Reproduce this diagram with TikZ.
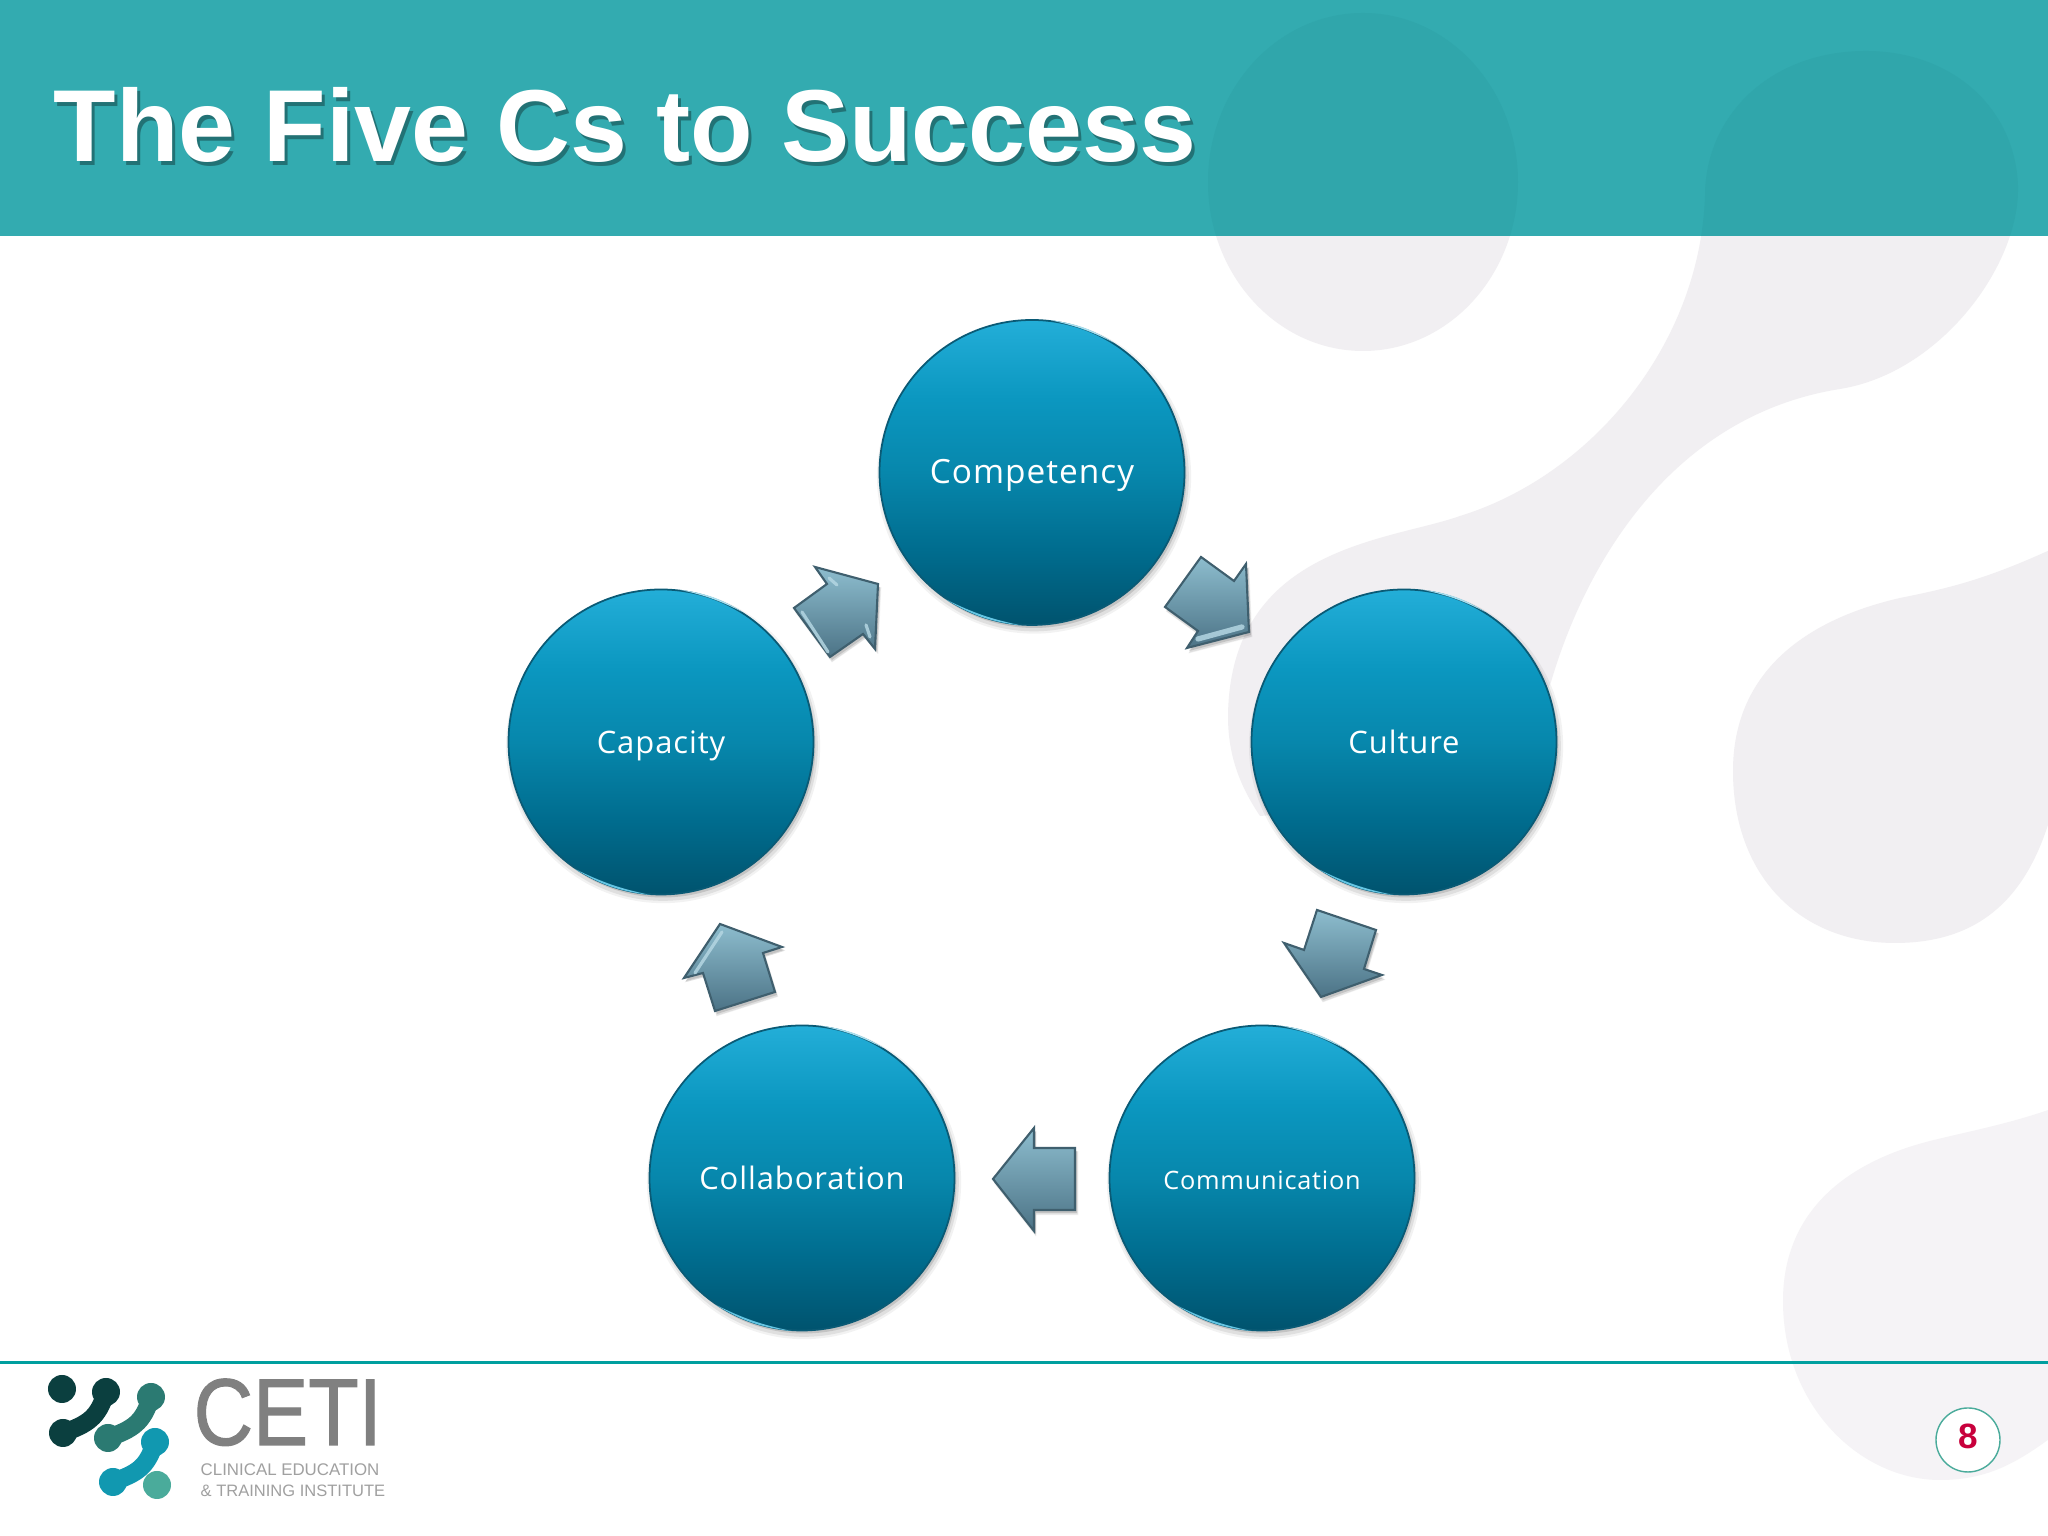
\documentclass[tikz,border=0pt]{standalone}
\usepackage{fontspec}
\usepackage{xcolor}
\usetikzlibrary{shadows}
\setmainfont{Liberation Sans}
\newfontfamily\bubblefont[LetterSpace=3]{Open Sans}
\newfontfamily\cetifont[FakeBold=1.2]{Liberation Sans}

\definecolor{headteal}{HTML}{33ABB0}
\definecolor{headblob}{HTML}{30A6AB}
\definecolor{blobgrey}{HTML}{F1EFF2}
\definecolor{blobpale}{HTML}{F5F3F6}
\definecolor{bubbleedge}{HTML}{0A5A75}
\definecolor{arrowedge}{HTML}{3F5F6E}
\definecolor{logogrey}{HTML}{808080}
\definecolor{bubblefoot}{HTML}{00536E}
\definecolor{bubblelow}{HTML}{006C8E}
\definecolor{bubblemid}{HTML}{0787AC}
\definecolor{bubblehigh}{HTML}{0B97C0}
\definecolor{bubbletop}{HTML}{23AED8}
\definecolor{arrowtop}{HTML}{8DBDCE}
\definecolor{arrowlow}{HTML}{4C7386}
\definecolor{arrowshine}{HTML}{B4D6E2}
\definecolor{logodark}{HTML}{0B3F3F}
\definecolor{logomid}{HTML}{2B7A72}
\definecolor{logocyan}{HTML}{1198B0}
\definecolor{logodot}{HTML}{4AAB9B}
\pgfdeclareverticalshading{bubbleshade}{100bp}{color(0bp)=(bubblefoot);color(25bp)=(bubblefoot);color(37bp)=(bubblelow);color(50bp)=(bubblemid);color(62bp)=(bubblehigh);color(75bp)=(bubbletop);color(100bp)=(bubbletop)}

\tikzset{
    softshadow/.style={
        drop shadow={shadow xshift=.02cm,shadow yshift=-.04cm,shadow scale=1.03,opacity=.05,fill=black},
        drop shadow={shadow xshift=.02cm,shadow yshift=-.04cm,shadow scale=1.015,opacity=.08,fill=black},
        drop shadow={shadow xshift=.02cm,shadow yshift=-.03cm,opacity=.12,fill=black}},
    bubble/.style={circle,minimum size=3.05cm,inner sep=0pt,draw=bubbleedge,line width=.5pt,
        shading=bubbleshade,softshadow,text=white,text height=6.3pt,text depth=0pt,font=\bubblefont\fontsize{8.8}{12}\selectfont},
    blockarrow/.style={draw=arrowedge,line width=.6pt,line join=miter,top color=arrowtop,bottom color=arrowlow,softshadow},
    arrowglint/.style={draw=arrowshine,line width=.9pt,line cap=round,opacity=.85},
    logotext/.style={anchor=base west,inner sep=0pt,text=logogrey!75}
}

\newcommand{\glint}[1]{
    \fill[bubbletop!40!white] (#1.83) to[bend left=12] (#1.58) to[bend right=7] cycle;
    \fill[bubbletop!70!white] (#1.236) to[bend right=12] (#1.266) to[bend left=7] cycle;
}
\newcommand{\blobtop}{(13.63,13.54) ellipse[x radius=1.55,y radius=1.69]}
\newcommand{\blobband}{(15.51,8.54) .. controls (15.85,9.7) and (16.7,11.2) .. (18.4,11.47) .. controls (19.4,11.63) and (20.2,12.7) .. (20.18,13.5) .. controls (20.15,14.3) and (19.5,14.85) .. (18.66,14.85) .. controls (17.7,14.85) and (17.05,14.2) .. (17.05,13.4) .. controls (17.0,11.9) and (15.9,10.6) .. (14.6,10.2) .. controls (13.9,9.95) and (12.3,9.9) .. (12.28,8.2) .. controls (12.28,7.8) and (12.4,7.5) .. (12.6,7.2) -- (15,7.4) -- cycle}

\begin{document}
\begin{tikzpicture}
    \useasboundingbox (0,0) rectangle (20.48,15.36);
    \clip (0,0) rectangle (20.48,15.36);
    % background
    \fill[white] (0,0) rectangle (20.48,15.36);
    \fill[blobgrey] \blobtop;
    \fill[blobgrey] \blobband;
    \fill[blobgrey] (21,10.1) .. controls (20,9.6) and (19.6,9.5) .. (19.0,9.38) .. controls (18.0,9.15) and (17.33,8.6) .. (17.33,7.65) .. controls (17.33,6.6) and (18.0,5.93) .. (18.95,5.93) .. controls (19.9,5.93) and (20.4,6.5) .. (20.6,7.6) -- cycle;
    \fill[blobpale] (20.6,4.3) .. controls (20.1,4.12) and (19.7,4.05) .. (19.3,3.95) .. controls (18.4,3.72) and (17.83,3.2) .. (17.83,2.35) .. controls (17.83,1.3) and (18.6,.56) .. (19.4,.56) .. controls (19.9,.56) and (20.2,.75) .. (20.6,1.05) -- cycle;
    % header
    \fill[headteal] (0,13) rectangle (20.48,15.36);
    \begin{scope}
        \clip (0,13) rectangle (20.48,15.36);
        \fill[headblob] \blobtop;
        \fill[headblob] \blobband;
    \end{scope}
    \node[anchor=base west,inner sep=0pt,text=black!55!headteal,opacity=.6,font=\bfseries\fontsize{29.1}{34}\selectfont] at (.56,13.70) {The Five Cs to Success};
    \node (title) [anchor=base west,inner sep=0pt,text=white,font=\bfseries\fontsize{29.1}{34}\selectfont] at (.53,13.74) {The Five Cs to Success};

    % the five circles
    \node (competency) [bubble,font=\bubblefont\fontsize{9.5}{12}\selectfont] at (10.32,10.635) {Competency};
    \node (culture) [bubble] at (14.04,7.94) {Culture};
    \node (communication) [bubble,font=\bubblefont\fontsize{7.2}{11}\selectfont] at (12.62,3.58) {Communication};
    \node (collaboration) [bubble] at (8.02,3.58) {Collaboration};
    \node (capacity) [bubble] at (6.61,7.94) {Capacity};
    \glint{competency}
    \glint{culture}
    \glint{communication}
    \glint{collaboration}
    \glint{capacity}

    % block arrows
    \path[blockarrow] (12.01,9.79) -- (12.34,9.55) -- (12.46,9.72) -- (12.49,9.04) -- (11.87,8.88) -- (11.98,9.05) -- (11.65,9.29) -- cycle;
    \path[blockarrow] (13.17,6.26) -- (13.76,6.06) -- (13.64,5.67) -- (13.82,5.61) -- (13.21,5.39) -- (12.84,5.93) -- (13.04,5.86) -- cycle;
    \path[blockarrow] (10.75,3.88) -- (10.75,3.26) -- (10.34,3.26) -- (10.34,3.05) -- (9.93,3.57) -- (10.34,4.08) -- (10.34,3.88) -- cycle;
    \path[blockarrow] (7.15,5.25) -- (7.75,5.44) -- (7.63,5.83) -- (7.82,5.89) -- (7.20,6.12) -- (6.84,5.58) -- (7.03,5.63) -- cycle;
    \path[blockarrow] (8.30,8.79) -- (8.63,9.02) -- (8.75,8.87) -- (8.78,9.52) -- (8.15,9.69) -- (8.27,9.52) -- (7.94,9.28) -- cycle;
    \draw[arrowglint,line width=1.5pt] (11.98,8.97) -- (12.42,9.09);
    \draw[arrowglint] (7.22,6.04) -- (6.95,5.63);
    \draw[arrowglint] (8.02,9.24) -- (8.28,8.84);
    \draw[arrowglint] (8.29,9.58) -- (8.37,9.51);
    \draw[arrowglint] (8.66,9.11) -- (8.70,8.99);

    % footer
    \draw[teal!75!cyan,line width=.03cm] (0,1.73) -- (20.48,1.73);
    \node (pagenum) [circle,minimum size=.64cm,inner sep=0pt,draw=logodot,line width=.4pt,fill=white,text={rgb,255:red,200;green,0;blue,60},text depth=2pt,font=\bfseries\fontsize{10}{12}\selectfont] at (19.68,.96) {8};

    % logo
    \fill[logodark] (.62,1.47) circle (.14);
    \fill[logodark] (1.06,1.44) circle (.14) (.63,1.03) circle (.14);
    \draw[logodark,line width=.18cm] (1.06,1.44) .. controls (.98,1.18) and (.88,1.12) .. (.63,1.03);
    \fill[logomid] (1.51,1.39) circle (.14) (1.08,.98) circle (.14);
    \draw[logomid,line width=.18cm] (1.51,1.39) .. controls (1.43,1.13) and (1.33,1.07) .. (1.08,.98);
    \fill[logocyan] (1.55,.94) circle (.14) (1.13,.54) circle (.14);
    \draw[logocyan,line width=.18cm] (1.55,.94) .. controls (1.47,.68) and (1.37,.63) .. (1.13,.54);
    \fill[logodot] (1.57,.51) circle (.14);
    \node (ceti) [logotext,text=logogrey,xscale=.87,transform shape,font=\cetifont\fontsize{27}{30}\selectfont] at (1.93,.91) {CETI};
    \node (cetione) [logotext,font=\fontsize{4.8}{6}\selectfont] at (2,.60) {CLINICAL EDUCATION};
    \node (cetitwo) [logotext,font=\fontsize{4.7}{6}\selectfont] at (2,.39) {\& TRAINING INSTITUTE};
\end{tikzpicture}
\end{document}
